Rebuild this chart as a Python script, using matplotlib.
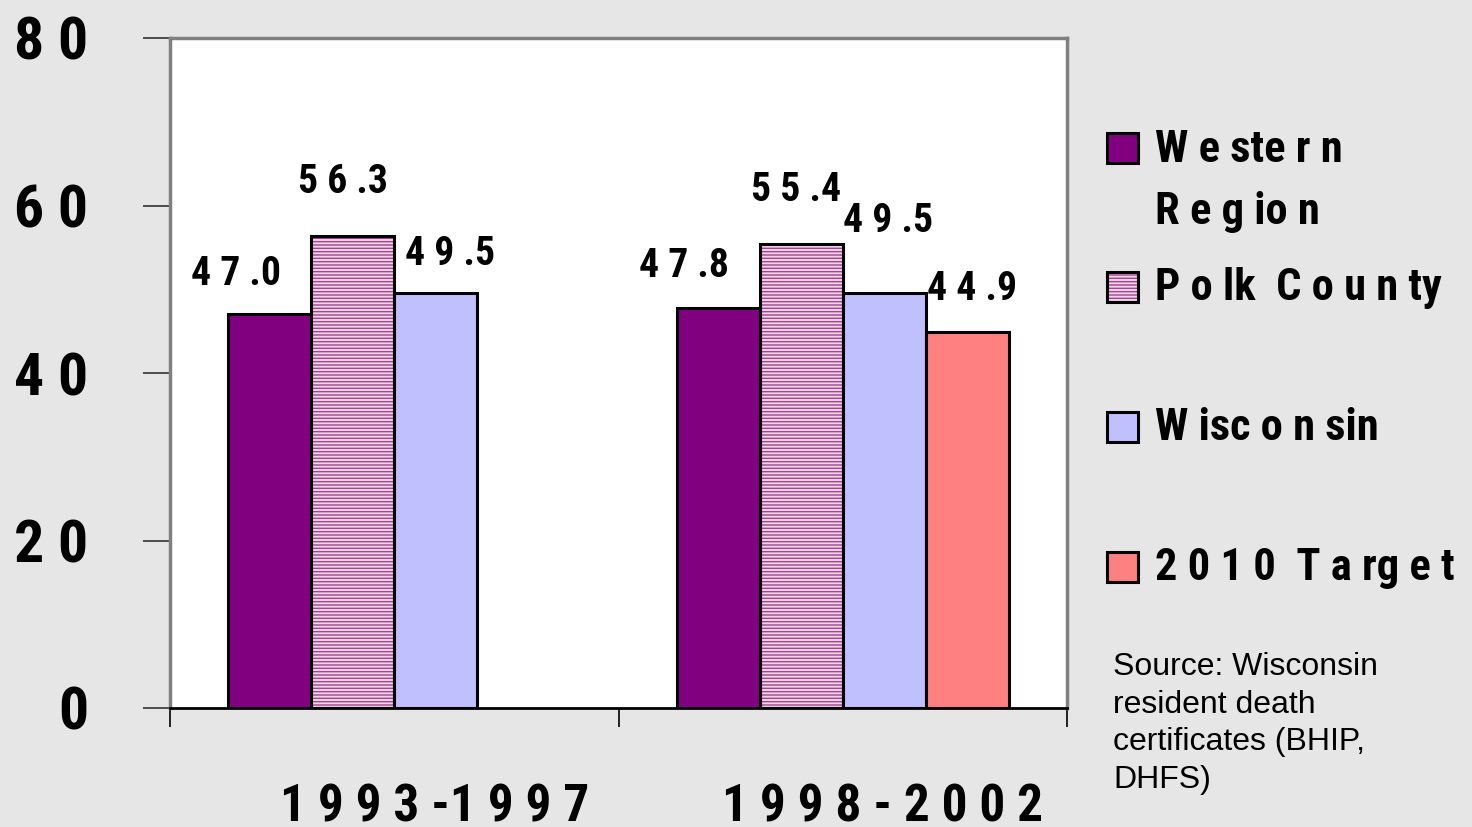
import numpy as np
import matplotlib
matplotlib.use("Agg")
import matplotlib.pyplot as plt
from matplotlib.patches import Rectangle
from matplotlib.transforms import ScaledTranslation

plt.rcParams['font.family'] = ['Roboto Condensed', 'Liberation Sans', 'DejaVu Sans']
plt.rcParams['hatch.linewidth'] = 1.0

# data
periods = ['1 9 9 3 -1 9 9 7', '1 9 9 8 - 2 0 0 2']
western = [47.0, 47.8]
polk = [56.3, 55.4]
wisconsin = [49.5, 49.5]
target = [np.nan, 44.9]
yticks = [0, 20, 40, 60, 80]
ytick_labels = ['0', '2 0', '4 0', '6 0', '8 0']
legend_labels = [['W e ste r n', 'R e g io n'], ['P o lk  C o u n ty'], ['W isc o n sin'], ['2 0 1 0  T a rg e t']]
source = 'Source: Wisconsin\nresident death\ncertificates (BHIP,\nDHFS)'

# styles
colors = ['#800080', '#f4d0ec', '#c0c0ff', '#ff8080']
hatch_color = '#9a4a88'
bg = '#e6e6e6'
# label offsets from bar top, in pixels (dx, dy) per series / period
label_dx = [[-34, -34], [-10, -5], [14, 4], [0, 5]]
label_dy = [[29, 31], [43, 43], [28, 61], [0, 32]]

W, H = 1472, 827
fig = plt.figure(figsize=(W / 100, H / 100), dpi=100, facecolor=bg)
ax = fig.add_axes([170 / W, 1 - 708 / H, 897 / W, 670 / H])
ax.set_facecolor('white')

x = np.arange(len(periods))
width = 0.185
all_series = [western, polk, wisconsin, target]

for i, vals in enumerate(all_series):
    vals = np.array(vals, dtype=float)
    ok = ~np.isnan(vals)
    xs = x[ok] + (i - 1.5) * width
    if i == 1:
        ax.bar(xs, vals[ok], width, facecolor=colors[i], edgecolor=hatch_color,
               hatch='-----', linewidth=0, zorder=2)
        ax.bar(xs, vals[ok], width, fill=False, edgecolor='black', linewidth=2.2, zorder=3)
    else:
        ax.bar(xs, vals[ok], width, color=colors[i], edgecolor='black', linewidth=2.2, zorder=3)
    for j in np.where(ok)[0]:
        v = vals[j]
        whole, dec = f"{v:.1f}".split('.')
        txt = ' '.join(whole) + ' .' + dec
        ax.annotate(txt, (x[j] + (i - 1.5) * width, v),
                    xytext=(label_dx[i][j], label_dy[i][j]), textcoords='offset pixels',
                    ha='center', va='baseline', fontsize=28.5, fontweight='bold', zorder=4)

ax.set_ylim(0, 80)
ax.set_xlim(-0.5, 1.5)
ax.set_yticks(yticks)
ax.set_yticklabels(ytick_labels)
ax.tick_params(axis='y', length=19.4, width=1.2, color='#333333', pad=39.6,
               labelsize=43)
for lab in ax.get_yticklabels():
    lab.set_fontweight('bold')

ax.set_xticks(x)
ax.set_xticklabels(periods, fontsize=37, fontweight='bold')
ax.set_xticks([-0.5, 0.5, 1.5], minor=True)
ax.tick_params(axis='x', which='major', length=0, pad=54)
ax.tick_params(axis='x', which='minor', length=14, width=1.2, color='black')
for lab in ax.get_xticklabels():
    lab.set_transform(lab.get_transform() + ScaledTranslation(0.40, 0, fig.dpi_scale_trans))

for side in ['top', 'right', 'left']:
    ax.spines[side].set_color('#808080')
    ax.spines[side].set_linewidth(2.5)
ax.spines['bottom'].set_color('black')
ax.spines['bottom'].set_linewidth(2)

# legend, drawn by hand
sw_top = [133, 272, 412, 552]
text_base = [162, 300, 440, 580]
for i, lines in enumerate(legend_labels):
    y0 = 1 - (sw_top[i] + 30) / H
    kw = dict(transform=fig.transFigure)
    if i == 1:
        fig.add_artist(Rectangle((1107 / W, y0), 31 / W, 30 / H, facecolor=colors[i],
                                 edgecolor=hatch_color, hatch='-----', linewidth=0, **kw))
        fig.add_artist(Rectangle((1107 / W, y0), 31 / W, 30 / H, fill=False,
                                 edgecolor='black', linewidth=2.2, **kw))
    else:
        fig.add_artist(Rectangle((1107 / W, y0), 31 / W, 30 / H, facecolor=colors[i],
                                 edgecolor='black', linewidth=2.2, **kw))
    for k, line in enumerate(lines):
        fig.text(1155 / W, 1 - (text_base[i] + 62 * k) / H, line, fontsize=32,
                 fontweight='bold', va='baseline', ha='left')

fig.text(1113 / W, 1 - 652 / H, source, fontsize=23, va='top', ha='left',
         linespacing=1.33, family=['Liberation Sans', 'DejaVu Sans'])

fig.savefig('out.png', dpi=100, facecolor=bg)
